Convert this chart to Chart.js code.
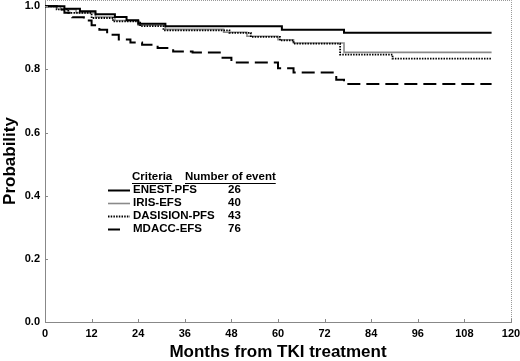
<!DOCTYPE html>
<html>
<head>
<meta charset="utf-8">
<script src="https://cdn.jsdelivr.net/npm/chart.js@4"></script>
<style>
html,body{margin:0;padding:0;background:#fff;}
#c{display:block;}
</style>
</head>
<body>
<canvas id="c" width="520" height="361"></canvas>
<script>
const xTicks = [0, 12, 24, 36, 48, 60, 72, 84, 96, 108, 120];
const yTicks = [0, 0.2, 0.4, 0.6, 0.8, 1.0];

const seriesNames = ['ENEST-PFS', 'IRIS-EFS', 'DASISION-PFS', 'MDACC-EFS'];
const eventCounts = [26, 40, 43, 76];

const enestMonths = [0, 5, 9, 13, 18, 21, 24, 31, 61, 77, 115];
const enestProb   = [1, 0.992, 0.984, 0.975, 0.966, 0.956, 0.945, 0.937, 0.926, 0.916, 0.916];

const irisMonths = [0, 4, 8, 13, 18, 24, 31, 46, 52, 60, 64, 77, 115];
const irisProb   = [1, 0.99, 0.98, 0.966, 0.955, 0.94, 0.927, 0.918, 0.905, 0.894, 0.884, 0.854, 0.854];

const dasisionMonths = [0, 3, 6, 12, 17.5, 24.5, 30.5, 47.5, 53, 60.5, 64, 76, 89.5, 115];
const dasisionProb   = [1, 0.99, 0.979, 0.963, 0.952, 0.937, 0.924, 0.916, 0.903, 0.892, 0.882, 0.847, 0.834, 0.834];

const mdaccMonths = [0, 3, 5, 7, 10, 12, 14, 16, 19, 22, 25, 29, 33, 38, 45, 48, 60, 64, 75, 77, 115];
const mdaccProb   = [1, 0.99, 0.98, 0.965, 0.955, 0.94, 0.926, 0.91, 0.895, 0.885, 0.878, 0.868, 0.857, 0.854, 0.837, 0.822, 0.804, 0.79, 0.767, 0.754, 0.754];

const FONT = "'Liberation Sans', Arial, sans-serif";

function pts(xs, ys){ return xs.map((x,i)=>({x:x, y:ys[i]})); }

const styles = [
  {color:'#000', width:2, dash:[]},
  {color:'#8a8a8a', width:1.6, dash:[]},
  {color:'#000', width:1.8, dash:[1.5,1.2]},
  {color:'#000', width:2, dash:[13,6]}
];
const allX = [enestMonths, irisMonths, dasisionMonths, mdaccMonths];
const allY = [enestProb, irisProb, dasisionProb, mdaccProb];

const datasets = seriesNames.map((n,i)=>({
  label:n,
  data: pts(allX[i], allY[i]),
  stepped: true,
  pointRadius: 0,
  borderColor: styles[i].color,
  borderWidth: styles[i].width,
  borderDash: styles[i].dash,
  fill: false,
  order: i===1 ? 5 : i
}));

const decor = {
  id:'decor',
  afterDraw(chart){
    const ctx = chart.ctx, a = chart.chartArea;
    const xs = chart.scales.x, ys = chart.scales.y;
    ctx.save();
    // dotted top/right border
    ctx.strokeStyle = '#999';
    ctx.lineWidth = 1;
    ctx.setLineDash([1,1]);
    ctx.beginPath();
    ctx.moveTo(a.left, a.top+0.5); ctx.lineTo(a.right+0.5, a.top+0.5);
    ctx.lineTo(a.right+0.5, a.bottom);
    ctx.stroke();
    ctx.setLineDash([]);
    // inside ticks
    ctx.strokeStyle = '#888';
    ctx.beginPath();
    xTicks.forEach(t=>{ const px = Math.round(xs.getPixelForValue(t))+0.5; ctx.moveTo(px, a.bottom); ctx.lineTo(px, a.bottom-3); });
    yTicks.forEach(t=>{ const py = Math.round(ys.getPixelForValue(t))+0.5; ctx.moveTo(a.left, py); ctx.lineTo(a.left+3, py); });
    ctx.stroke();
    // legend
    ctx.fillStyle = '#000';
    ctx.font = "bold 11.5px " + FONT;
    ctx.textBaseline = 'middle';
    ctx.textAlign = 'left';
    const hx1 = 132, hx2 = 185, hy = 177;
    ctx.fillText('Criteria', hx1, hy);
    ctx.fillText('Number of event', hx2, hy);
    const w1 = ctx.measureText('Criteria').width, w2 = ctx.measureText('Number of event').width;
    ctx.strokeStyle = '#000'; ctx.lineWidth = 1;
    ctx.beginPath();
    ctx.moveTo(hx1, hy+6.5); ctx.lineTo(hx1+w1, hy+6.5);
    ctx.moveTo(hx2, hy+6.5); ctx.lineTo(hx2+w2, hy+6.5);
    ctx.stroke();
    const rowsY = [190, 203, 216, 229];
    const sampleLen = [22, 22, 22, 12];
    seriesNames.forEach((n,i)=>{
      const y = rowsY[i];
      ctx.strokeStyle = styles[i].color;
      ctx.lineWidth = styles[i].width;
      ctx.setLineDash(styles[i].dash);
      ctx.beginPath();
      ctx.moveTo(108, y+0.5); ctx.lineTo(108+sampleLen[i], y+0.5);
      ctx.stroke();
      ctx.setLineDash([]);
      ctx.fillText(n, 133, y);
      ctx.fillText(String(eventCounts[i]), 228, y);
    });
    ctx.restore();
  }
};

function noPad(s){ s.paddingTop = 0; s.paddingBottom = 0; s.paddingLeft = 0; s.paddingRight = 0; }

new Chart(document.getElementById('c'), {
  type:'line',
  data:{datasets: datasets},
  options:{
    responsive:false,
    animation:false,
    events:[],
    layout:{padding:{top:0, right:9, left:0, bottom:0}},
    plugins:{legend:{display:false}, tooltip:{enabled:false}},
    scales:{
      x:{
        type:'linear', min:0, max:120,
        afterBuildTicks: s=>{ s.ticks = xTicks.map(v=>({value:v})); },
        grid:{display:false, drawTicks:false},
        border:{display:true, color:'#888', width:1},
        ticks:{font:{family:FONT, weight:'bold', size:11}, color:'#000', padding:5, maxRotation:0, autoSkip:false},
        title:{display:true, text:'Months from TKI treatment', color:'#000', font:{family:FONT, weight:'bold', size:17}, padding:{top:0, bottom:-2}},
        afterFit: s=>{ s.height = 39; noPad(s); }
      },
      y:{
        type:'linear', min:0, max:1.02,
        afterBuildTicks: s=>{ s.ticks = yTicks.map(v=>({value:v})); },
        grid:{display:false, drawTicks:false},
        border:{display:true, color:'#888', width:1},
        ticks:{font:{family:FONT, weight:'bold', size:11}, color:'#000', padding:5, callback:v=>Number(v).toFixed(1)},
        title:{display:true, text:'Probability', color:'#000', font:{family:FONT, weight:'bold', size:17}, padding:{top:0, bottom:0}},
        afterFit: s=>{ s.width = 45; noPad(s); }
      }
    }
  },
  plugins:[decor]
});
</script>
</body>
</html>
